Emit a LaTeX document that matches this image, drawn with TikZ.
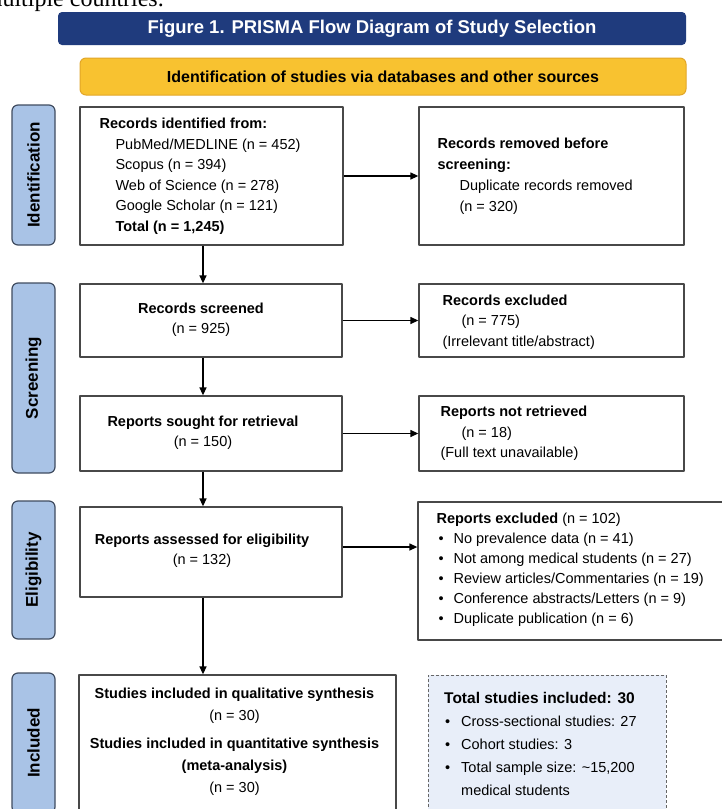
\documentclass[tikz,border=0pt]{standalone}
\usepackage{fontspec}
\setmainfont{Liberation Sans}
\newfontfamily\chuchan{Liberation Serif}
\usetikzlibrary{arrows.meta}
% Màu của sơ đồ
\definecolor{xanhdam}{HTML}{1F3B7D}
\definecolor{vang}{HTML}{F8C230}
\definecolor{vienvang}{HTML}{E2A628}
\definecolor{xanhtab}{HTML}{A9C3E6}
\definecolor{vientab}{HTML}{404C60}
\definecolor{nenxanh}{HTML}{E8EEF9}
\definecolor{vienhop}{HTML}{484848}
\begin{document}
\begin{tikzpicture}[x=1pt, y=-1pt, line join=round, >={Triangle[length=8pt,width=7pt]},
  hop/.style={draw=vienhop, line width=1.3pt, fill=white, inner sep=0pt},
  tab/.style={draw=vientab, line width=1.2pt, fill=xanhtab, rounded corners=6pt, rotate=90,
    minimum height=43pt, inner sep=0pt, font=\bfseries\fontsize{17}{20}\selectfont},
  chu/.style={inner sep=0pt, font=\fontsize{14.5}{20.5}\selectfont},
  mui/.style={->, line width=1.3pt}] % đơn vị là pixel của ảnh
% Khung ảnh 722 x 809
\useasboundingbox (0,0) rectangle (722,809);
\clip (0,0) rectangle (722,809);
\fill[white] (0,0) rectangle (722,809);
% Dòng chữ bị cắt ở mép trên
\node[inner sep=0pt, anchor=base east, font=\chuchan\fontsize{24}{24}\selectfont] (dongtren) at (164,6) {multiple countries.};
% Tiêu đề và thanh nguồn
\node[fill=xanhdam, rounded corners=4pt, minimum width=628pt, minimum height=33pt, text=white,
  font=\bfseries\fontsize{18.5}{20}\selectfont] (tieude) at (372,28.5) {Figure 1. PRISMA Flow Diagram of Study Selection};
\node[fill=vang, draw=vienvang, line width=1pt, rounded corners=6pt, minimum width=606pt, minimum height=37pt,
  font=\bfseries\fontsize{16}{20}\selectfont] (nguon) at (383,76.5) {Identification of studies via databases and other sources};
% Các nhãn giai đoạn bên trái
\node[tab, minimum width=140pt] (tabnhan) at (33.5,175) {Identification};
\node[tab, minimum width=190pt] (tabloc) at (33.5,378) {Screening};
\node[tab, minimum width=138pt] (tabdk) at (33.5,570) {Eligibility};
\node[tab, minimum width=140pt] (tabchon) at (33.5,743) {Included};
% Các hộp
\node[hop, minimum width=263pt, minimum height=138pt] (ident) at (211.5,176) {};
\node[hop, minimum width=265pt, minimum height=138pt] (removed) at (551.5,176) {};
\node[hop, minimum width=262pt, minimum height=73pt] (screened) at (211,320.5) {};
\node[hop, minimum width=265pt, minimum height=73pt] (excl) at (551.5,320.5) {};
\node[hop, minimum width=262pt, minimum height=75pt] (sought) at (211,433.5) {};
\node[hop, minimum width=265pt, minimum height=75pt] (notret) at (551.5,433.5) {};
\node[hop, minimum width=262pt, minimum height=90pt] (assessed) at (211,552) {};
\node[hop, minimum width=312pt, minimum height=138pt] (rexcl) at (574,571) {};
\node[hop, minimum width=317pt, minimum height=160pt] (incl) at (237.5,755) {};
\node[draw=gray!80!black, line width=1pt, dash pattern=on 3pt off 2pt, fill=nenxanh,
  minimum width=238pt, minimum height=160pt, inner sep=0pt] (tomtat) at (547,755) {};
% Chữ trong hộp
\node[chu, anchor=west, align=left] (t-ident) at ([xshift=20pt]ident.west)
  {\textbf{Records identified from:}\\
   \hspace*{16pt}PubMed/MEDLINE (n = 452)\\
   \hspace*{16pt}Scopus (n = 394)\\
   \hspace*{16pt}Web of Science (n = 278)\\
   \hspace*{16pt}Google Scholar (n = 121)\\
   \hspace*{16pt}\textbf{Total (n = 1,245)}};
\node[chu, anchor=west, align=left] (t-removed) at ([xshift=19pt]removed.west)
  {\textbf{Records removed before}\\
   \textbf{screening:}\\[1pt]
   \hspace*{22pt}Duplicate records removed\\
   \hspace*{22pt}(n = 320)};
\node[chu, align=center] (t-screened) at ([xshift=-10pt,yshift=1pt]screened.center)
  {\textbf{Records screened}\\(n = 925)};
\node[chu, anchor=west, align=left] (t-excl) at ([xshift=24pt,yshift=-1.5pt]excl.west)
  {\textbf{Records excluded}\\
   \hspace*{19pt}(n = 775)\\
   (Irrelevant title/abstract)};
\node[chu, align=center] (t-sought) at ([xshift=-8pt,yshift=1pt]sought.center)
  {\textbf{Reports sought for retrieval}\\(n = 150)};
\node[chu, anchor=west, align=left] (t-notret) at ([xshift=22pt]notret.west)
  {\textbf{Reports not retrieved}\\
   \hspace*{21pt}(n = 18)\\
   (Full text unavailable)};
\node[chu, align=center] (t-assessed) at ([xshift=-9pt,yshift=1.5pt]assessed.center)
  {\textbf{Reports assessed for eligibility}\\(n = 132)};
\node[chu, anchor=west, align=left, font=\fontsize{14.5}{20}\selectfont] (t-rexcl) at ([xshift=19pt,yshift=1pt]rexcl.west)
  {\textbf{Reports excluded} (n = 102)\\
   \makebox[17pt][l]{\hspace{2pt}\textbullet}No prevalence data (n = 41)\\
   \makebox[17pt][l]{\hspace{2pt}\textbullet}Not among medical students (n = 27)\\
   \makebox[17pt][l]{\hspace{2pt}\textbullet}Review articles/Commentaries (n = 19)\\
   \makebox[17pt][l]{\hspace{2pt}\textbullet}Conference abstracts/Letters (n = 9)\\
   \makebox[17pt][l]{\hspace{2pt}\textbullet}Duplicate publication (n = 6)};
\node[chu, align=center, font=\fontsize{14.5}{22}\selectfont] (t-incl) at (234.5,742)
  {\textbf{Studies included in qualitative synthesis}\\
   (n = 30)\\[6pt]
   \textbf{Studies included in quantitative synthesis}\\
   \textbf{(meta-analysis)}\\
   (n = 30)};
\node[chu, anchor=west, align=left, font=\fontsize{14.5}{23}\selectfont] (t-tomtat) at (444,744)
  {{\bfseries\fontsize{15.5}{23}\selectfont Total studies included: 30}\\
   \makebox[17pt][l]{\hspace{1pt}\textbullet}Cross-sectional studies: 27\\
   \makebox[17pt][l]{\hspace{1pt}\textbullet}Cohort studies: 3\\
   \makebox[17pt][l]{\hspace{1pt}\textbullet}Total sample size: {\raisebox{0pt}{\char`\~}}15,200\\
   \hspace*{17pt}medical students};
% Mũi tên sang phải
\draw[mui] (ident.east) -- (removed.west);
\draw[mui] (screened.east) -- (excl.west);
\draw[mui] (sought.east) -- (notret.west);
\draw[mui] ([yshift=5pt]assessed.east) -- ([yshift=5pt]assessed.east -| rexcl.west);
% Mũi tên đi xuống (x = 203)
\draw[mui] ([xshift=-8.5pt]ident.south) -- ([xshift=-8.5pt]ident.south |- screened.north);
\draw[mui] ([xshift=-8pt]screened.south) -- ([xshift=-8pt]screened.south |- sought.north);
\draw[mui] ([xshift=-8pt]sought.south) -- ([xshift=-8pt]sought.south |- assessed.north);
\draw[mui] ([xshift=-8pt]assessed.south) -- ([xshift=-8pt]assessed.south |- incl.north);
\end{tikzpicture}
\end{document}
